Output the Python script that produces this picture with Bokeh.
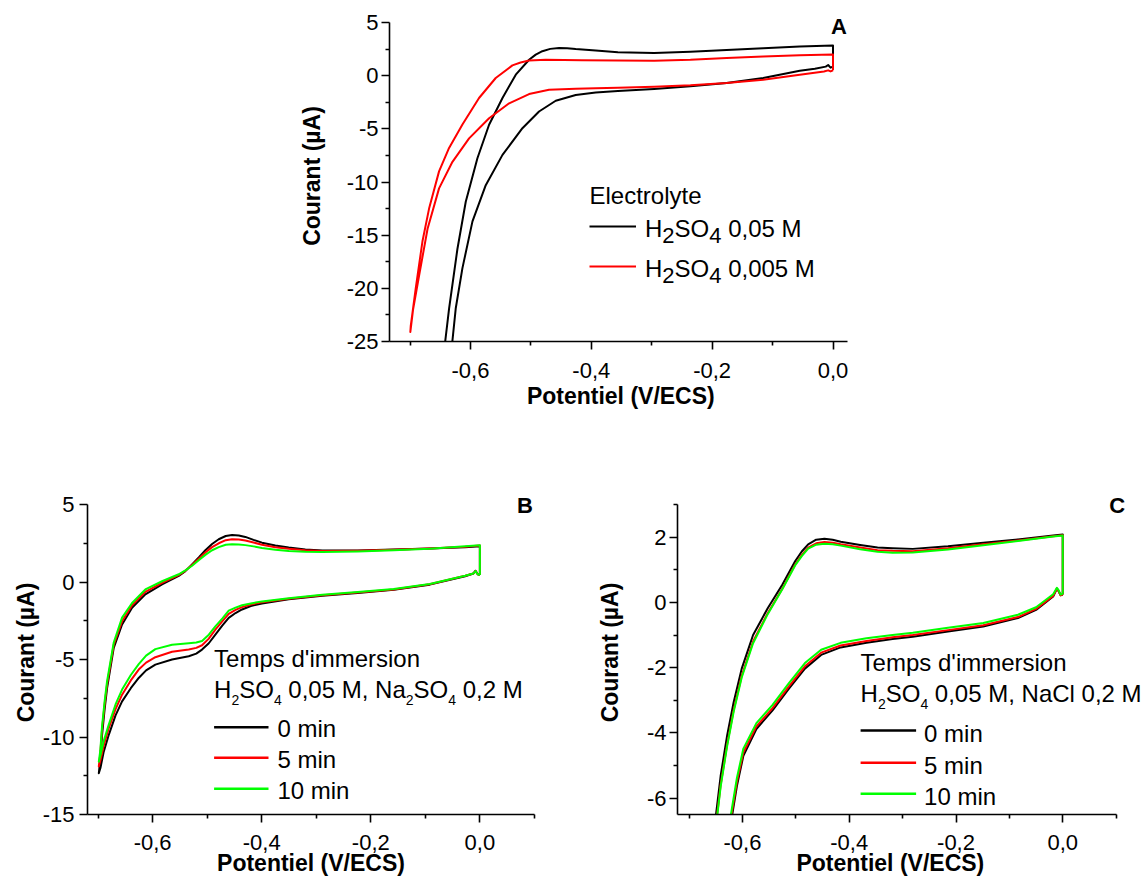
from bokeh.plotting import figure
from bokeh.models import Range1d, FixedTicker, CustomJSTickFormatter, Label, BoxAnnotation, Spacer
from bokeh.layouts import column, row
from bokeh.embed import file_html
from bokeh.resources import INLINE

# ---------------- data (E in V/ECS, I in µA) ----------------
# Panel A : H2SO4 0,05 M (black) and 0,005 M (red)
A_blk_fwd_E = [0.0, -0.004, -0.008, -0.012, -0.03, -0.055, -0.1155, -0.176, -0.236, -0.296, -0.356, -0.3927,
               -0.4258, -0.4589, -0.4865, -0.514, -0.547, -0.5747, -0.5967, -0.6133, -0.6244, -0.6298, -0.632]
A_blk_fwd_I = [0.85, 0.75, 1.0, 0.85, 0.65, 0.47, -0.22, -0.69, -1.0, -1.26, -1.45, -1.58,
               -1.82, -2.36, -3.37, -4.94, -7.45, -10.3, -13.7, -18.1, -21.9, -24.9, -26.5]
A_blk_rev_E = [-0.6445, -0.6416, -0.6354, -0.6216, -0.6078, -0.5885, -0.5692, -0.547, -0.525, -0.503, -0.492,
               -0.481, -0.468, -0.4534, -0.44, -0.4258, -0.3927, -0.356, -0.296, -0.236, -0.176, -0.1155, -0.055, 0.0]
A_blk_rev_I = [-26.5, -24.9, -21.9, -16.3, -11.86, -7.77, -4.62, -2.1, 0.09, 1.5, 1.98,
               2.3, 2.52, 2.6, 2.58, 2.5, 2.36, 2.2, 2.14, 2.26, 2.42, 2.58, 2.74, 2.83]
A_red_fwd_E = [0.0, -0.004, -0.008, -0.015, -0.055, -0.1155, -0.176, -0.236, -0.296, -0.356, -0.3927, -0.4258,
               -0.47, -0.503, -0.536, -0.5692, -0.6023, -0.6298, -0.652, -0.671, -0.685, -0.695, -0.6995]
A_red_fwd_I = [0.5, 0.4, 0.5, 0.4, 0.09, -0.38, -0.69, -0.91, -1.05, -1.13, -1.18, -1.24,
               -1.32, -1.73, -2.6, -4.0, -5.9, -8.1, -10.6, -14.4, -18.8, -22.0, -24.1]
A_red_rev_E = [-0.6988, -0.6906, -0.6795, -0.6685, -0.652, -0.6354, -0.6133, -0.5858, -0.5582, -0.5306, -0.517,
               -0.503, -0.4754, -0.416, -0.356, -0.296, -0.236, -0.176, -0.1155, -0.055, 0.0]
A_red_rev_I = [-23.5, -20.0, -15.6, -12.5, -9.0, -6.8, -4.6, -2.1, -0.22, 0.97, 1.24,
               1.42, 1.5, 1.45, 1.42, 1.41, 1.5, 1.67, 1.8, 1.92, 1.98]

# Panel B : H2SO4 0,05 M + Na2SO4 0,2 M, 0 / 5 / 10 min
B_fwd_E = [0.0, -0.004, -0.008, -0.012, -0.027, -0.092, -0.158, -0.224, -0.289, -0.3505,
           -0.3995, -0.42, -0.4361, -0.448, -0.4605, -0.472, -0.485, -0.497, -0.5094, -0.52,
           -0.5338, -0.5644, -0.595, -0.612, -0.6255, -0.64, -0.656, -0.668, -0.6804, -0.69,
           -0.6957, -0.6987]
B_0_fwd_I = [0.47, 0.5, 0.73, 0.55, 0.37, -0.17, -0.5, -0.71, -0.88, -1.12,
             -1.38, -1.55, -1.77, -2.0, -2.31, -2.8, -3.39, -3.95, -4.36, -4.62,
             -4.79, -5.0, -5.33, -5.7, -6.19, -6.85, -7.7, -8.6, -9.86, -11.0,
             -12.0, -12.34]
B_5_fwd_I = [0.45, 0.5, 0.7, 0.55, 0.4, -0.15, -0.48, -0.68, -0.85, -1.08,
             -1.3, -1.45, -1.62, -1.8, -2.05, -2.52, -3.07, -3.65, -4.08, -4.25,
             -4.35, -4.5, -4.85, -5.2, -5.65, -6.35, -7.27, -8.2, -9.43, -10.6,
             -11.5, -11.9]
B_10_fwd_I = [0.45, 0.5, 0.7, 0.55, 0.4, -0.13, -0.45, -0.65, -0.82, -1.04,
              -1.25, -1.38, -1.5, -1.65, -1.85, -2.35, -2.86, -3.4, -3.8, -3.9,
              -3.95, -4.05, -4.33, -4.75, -5.3, -6.0, -6.94, -7.9, -9.2, -10.3,
              -11.2, -11.6]
B_rev_E = [-0.696, -0.6927, -0.688, -0.6835, -0.6713, -0.656, -0.6377, -0.6133, -0.5827, -0.5521,
           -0.54, -0.5277, -0.515, -0.5033, -0.491, -0.4788, -0.466, -0.4544, -0.442, -0.43,
           -0.415, -0.3995, -0.375, -0.3505, -0.32, -0.289, -0.224, -0.158, -0.092, -0.027,
           0.0]
B_0_rev_I = [-11.5, -9.86, -8.2, -6.84, -4.25, -2.74, -1.66, -0.8, -0.15, 0.39,
             0.7, 1.14, 1.6, 2.05, 2.45, 2.76, 2.97, 3.04, 3.0, 2.91,
             2.72, 2.54, 2.35, 2.22, 2.1, 2.03, 2.04, 2.09, 2.16, 2.24,
             2.3]
B_5_rev_I = [-11.1, -9.5, -7.9, -6.6, -4.05, -2.53, -1.5, -0.63, -0.05, 0.45,
             0.72, 1.1, 1.52, 1.9, 2.25, 2.5, 2.7, 2.76, 2.74, 2.68,
             2.55, 2.4, 2.25, 2.15, 2.05, 2.0, 2.02, 2.08, 2.16, 2.27,
             2.35]
B_10_rev_I = [-10.9, -9.3, -7.7, -6.4, -3.9, -2.3, -1.35, -0.48, 0.05, 0.5,
              0.75, 1.05, 1.42, 1.75, 2.05, 2.25, 2.4, 2.44, 2.42, 2.38,
              2.3, 2.2, 2.08, 2.0, 1.95, 1.93, 1.97, 2.05, 2.15, 2.3,
              2.38]

# Panel C : H2SO4 0,05 M + NaCl 0,2 M, 0 / 5 / 10 min
C_fwd_E = [0.0, -0.004, -0.008, -0.011, -0.018, -0.05, -0.084, -0.149, -0.215, -0.281, -0.3189,
           -0.3677, -0.4163, -0.4527, -0.4831, -0.5134, -0.5437, -0.574, -0.5984, -0.6105, -0.6197, -0.624]
C_0_fwd_I = [0.24, 0.22, 0.35, 0.42, 0.18, -0.23, -0.48, -0.74, -0.89, -1.05, -1.12,
             -1.24, -1.38, -1.61, -2.03, -2.65, -3.31, -3.88, -4.7, -5.63, -6.55, -7.0]
C_5_fwd_I = [0.24, 0.22, 0.35, 0.42, 0.2, -0.2, -0.45, -0.7, -0.85, -1.0, -1.07,
             -1.18, -1.32, -1.54, -1.96, -2.58, -3.24, -3.8, -4.6, -5.5, -6.42, -6.85]
C_10_fwd_I = [0.26, 0.24, 0.38, 0.45, 0.25, -0.15, -0.38, -0.63, -0.78, -0.93, -1.0,
              -1.1, -1.24, -1.45, -1.86, -2.48, -3.14, -3.7, -4.48, -5.38, -6.3, -6.75]
C_rev_E = [-0.654, -0.650, -0.641, -0.6288, -0.6166, -0.6015, -0.5802, -0.5528, -0.5255, -0.5012,
           -0.489, -0.477, -0.462, -0.4465, -0.431, -0.416, -0.3796, -0.347, -0.3189, -0.281,
           -0.215, -0.149, -0.084, -0.018, 0.0]
C_0_rev_I = [-7.0, -6.55, -5.32, -4.08, -3.06, -2.03, -1.0, -0.18, 0.54, 1.27,
             1.56, 1.78, 1.92, 1.95, 1.92, 1.86, 1.76, 1.68, 1.66, 1.64,
             1.72, 1.83, 1.93, 2.05, 2.08]
C_5_rev_I = [-7.3, -6.85, -5.6, -4.35, -3.3, -2.25, -1.2, -0.33, 0.42, 1.17,
             1.45, 1.68, 1.81, 1.85, 1.83, 1.78, 1.68, 1.6, 1.58, 1.57,
             1.66, 1.78, 1.9, 2.03, 2.06]
C_10_rev_I = [-7.35, -6.9, -5.65, -4.4, -3.35, -2.3, -1.25, -0.36, 0.4, 1.14,
              1.42, 1.65, 1.77, 1.8, 1.78, 1.74, 1.63, 1.55, 1.52, 1.53,
              1.62, 1.75, 1.88, 2.02, 2.05]

# axes extents (data) and ticks
A_X_LIM, A_Y_LIM = (-0.734, 0.024), (-25, 5)
B_X_LIM, B_Y_LIM = (-0.7194, 0.1001), (-15, 5)
C_X_LIM, C_Y_LIM = (-0.7218, 0.1001), (-6.5, 3.0001)
X_MAJOR = [-0.6, -0.4, -0.2, 0.0]
X_MINOR_A = [-0.7, -0.5, -0.3, -0.1]
X_MINOR_BC = [-0.7, -0.5, -0.3, -0.1, 0.1]
A_Y_MAJOR = [-25, -20, -15, -10, -5, 0, 5]
A_Y_MINOR = [-22.5, -17.5, -12.5, -7.5, -2.5, 2.5]
B_Y_MAJOR = [-15, -10, -5, 0, 5]
B_Y_MINOR = [-12.5, -7.5, -2.5, 2.5]
C_Y_MAJOR = [-6, -4, -2, 0, 2]
C_Y_MINOR = [-5, -3, -1, 1, 3]

X_TITLE = "Potentiel (V/ECS)"
Y_TITLE = "Courant (µA)"

# ---------------- helpers ----------------
FONT = "Liberation Sans"
TXT_DY = -7  # baseline correction for screen labels
NBSP = "\u00a0"
WID = {' ': 278, "'": 191, '(': 333, ')': 333, ',': 278, '-': 333, '.': 278, '/': 278, 'M': 833, 'H': 722,
       'S': 667, 'O': 778, 'N': 722, 'C': 722, 'T': 611, 'E': 667, 'a': 556, 'c': 500, 'd': 556, 'e': 556,
       'i': 222, 'l': 222, 'm': 833, 'n': 556, 'o': 556, 'p': 556, 'r': 333, 's': 500, 't': 278, 'y': 500}


def tw(s, fs):
    return sum(WID.get(ch, 556) for ch in s) * fs / 1000.0


def loop(fe, fi, re_, ri):
    return list(fe) + list(re_) + [fe[0]], list(fi) + list(ri) + [fi[0]]


def make_fig(w, h, bl, br, bt, bb, xlim, ylim, x_pad, y_pad, ymaj, ymin, xminor,
             ystand, ylabstand, xstand, xlabstand, xlabel=X_TITLE):
    # the frame is padded on the right / top (blank room for texts); axes keep the data extents
    p = figure(width=w, height=h,
               x_range=Range1d(xlim[0], xlim[1] + x_pad), y_range=Range1d(ylim[0], ylim[1] + y_pad),
               output_backend="svg", toolbar_location=None,
               min_border_left=bl, min_border_right=br, min_border_top=bt, min_border_bottom=bb)
    p.grid.visible = False
    p.outline_line_color = None
    p.background_fill_color = "white"
    p.border_fill_color = "white"
    p.xaxis.bounds = xlim
    p.yaxis.bounds = ylim
    p.xaxis.ticker = FixedTicker(ticks=X_MAJOR, minor_ticks=xminor)
    p.xaxis.formatter = CustomJSTickFormatter(
        code="const s = Math.abs(tick) < 1e-9 ? '0.0' : tick.toFixed(1); return s.replace('.', ',');")
    p.yaxis.ticker = FixedTicker(ticks=ymaj, minor_ticks=ymin)
    p.yaxis.formatter = CustomJSTickFormatter(code="return tick.toFixed(0);")
    for ax in (p.xaxis[0], p.yaxis[0]):
        ax.axis_line_width = 1.6
        ax.axis_line_color = "black"
        ax.major_tick_line_width = 1.6
        ax.minor_tick_line_width = 1.6
        ax.major_tick_line_color = "black"
        ax.minor_tick_line_color = "black"
        ax.major_tick_in = 0
        ax.minor_tick_in = 0
        ax.major_tick_out = 8
        ax.minor_tick_out = 4
        ax.major_label_text_font = FONT
        ax.major_label_text_font_size = "22px"
        ax.major_label_text_color = "black"
        ax.axis_label_text_font = FONT
        ax.axis_label_text_font_size = "23px"
        ax.axis_label_text_font_style = "bold"
        ax.axis_label_text_color = "black"
    p.xaxis.axis_label = xlabel
    p.yaxis.axis_label = Y_TITLE
    p.yaxis.major_label_standoff = ystand
    p.yaxis.axis_label_standoff = ylabstand
    p.xaxis.major_label_standoff = xstand
    p.xaxis.axis_label_standoff = xlabstand
    return p


def put_text(p, fl, fb, x, y, text, fs, bold=False, align="left"):
    p.add_layout(Label(x=x - fl, y=fb - (y + TXT_DY), x_units="screen", y_units="screen", text=text,
                       text_font=FONT, text_font_size=f"{fs}px",
                       text_font_style="bold" if bold else "normal",
                       text_align=align, text_baseline="alphabetic", text_color="black"))


def put_rich(p, fl, fb, x, y, parts, fs, sfs, drop):
    cx = x
    for txt, sub in parts:
        f = sfs if sub else fs
        stripped = txt.lstrip(" ")
        cx += tw(txt[:len(txt) - len(stripped)], f)
        put_text(p, fl, fb, cx, y + (drop if sub else 0), stripped, f)
        cx += tw(stripped, f)


def put_line(p, fl, fb, x0, x1, y, color, lw=2.2):
    p.add_layout(BoxAnnotation(left=x0 - fl, right=x1 - fl, bottom=fb - y - lw / 2, top=fb - y + lw / 2,
                               left_units="screen", right_units="screen",
                               top_units="screen", bottom_units="screen",
                               fill_color=color, fill_alpha=1.0, line_color=None, level="overlay"))


BLACK, RED, GREEN = "#000000", "#ff0000", "#00ff00"
LW = 2

# ---------------- panel A ----------------
# canvas page x 260..860, y 8..428 ; frame 389..858 x 10..341 (axes 389..847 x 22..341)
pA = make_fig(600, 420, 129, 2, 2, 87, A_X_LIM, A_Y_LIM, 0.0182, 1.1286, A_Y_MAJOR, A_Y_MINOR, X_MINOR_A,
              3, 19, 13, 2, xlabel=X_TITLE + NBSP)
ex, iy = loop(A_blk_fwd_E, A_blk_fwd_I, A_blk_rev_E, A_blk_rev_I)
pA.line(ex, iy, line_color=BLACK, line_width=LW, line_join="round")
ex, iy = loop(A_red_fwd_E, A_red_fwd_I, A_red_rev_E, A_red_rev_I)
pA.line(ex, iy, line_color=RED, line_width=LW, line_join="round")
fl, fb = 389, 341
put_text(pA, fl, fb, 838.5, 33.3, "A", 22, bold=True, align="center")
put_text(pA, fl, fb, 589, 201.7, "Electrolyte", 24)
put_line(pA, fl, fb, 589, 635.5, 226, BLACK)
put_rich(pA, fl, fb, 644.5, 235, [("H", 0), ("2", 1), ("SO", 0), ("4", 1), (" 0,05 M", 0)], 24, 22, 6.7)
put_line(pA, fl, fb, 589, 635.5, 266, RED)
put_rich(pA, fl, fb, 644.5, 275, [("H", 0), ("2", 1), ("SO", 0), ("4", 1), (" 0,005 M", 0)], 24, 22, 6.7)

# ---------------- panel B ----------------
# canvas page x 8..593, y 428..880 ; frame 87..534 x 490..814 (axes 87..534 x 504..814)
pB = make_fig(585, 452, 79, 59, 62, 66, B_X_LIM, B_Y_LIM, 0.0, 0.9047, B_Y_MAJOR, B_Y_MINOR, X_MINOR_BC,
              5, 1, 12, -3)
for fi, ri, col in ((B_0_fwd_I, B_0_rev_I, BLACK), (B_5_fwd_I, B_5_rev_I, RED), (B_10_fwd_I, B_10_rev_I, GREEN)):
    ex, iy = loop(B_fwd_E, fi, B_rev_E, ri)
    pB.line(ex, iy, line_color=col, line_width=LW, line_join="round")
fl, fb = 87, 814
put_text(pB, fl, fb, 524.5, 511.7, "B", 22, bold=True, align="center")
put_text(pB, fl, fb, 213.6, 665, "Temps d'immersion", 24)
put_rich(pB, fl, fb, 213.6, 696, [("H", 0), ("2", 1), ("SO", 0), ("4", 1), (" 0,05 M, Na", 0), ("2", 1),
                                  ("SO", 0), ("4", 1), (" 0,2 M", 0)], 24, 14, 10)
for yl, yt, col, lab in ((726.7, 735, BLACK, "0 min"), (757.3, 766, RED, "5 min"), (788.3, 796.7, GREEN, "10 min")):
    put_line(pB, fl, fb, 213.6, 268, yl, col, 2.6)
    put_text(pB, fl, fb, 276.9, yt, lab, 24)

# ---------------- panel C ----------------
# canvas page x 593..1147, y 428..880 ; frame 664..1141 x 490..814 (axes 664..1115 x 504..814)
pC = make_fig(554, 452, 71, 6, 62, 66, C_X_LIM, C_Y_LIM, 0.0474, 0.4288, C_Y_MAJOR, C_Y_MINOR, X_MINOR_BC,
              3, 21, 12, -3, xlabel=X_TITLE + NBSP * 6)
for fi, ri, col in ((C_0_fwd_I, C_0_rev_I, BLACK), (C_5_fwd_I, C_5_rev_I, RED), (C_10_fwd_I, C_10_rev_I, GREEN)):
    ex, iy = loop(C_fwd_E, fi, C_rev_E, ri)
    pC.line(ex, iy, line_color=col, line_width=LW, line_join="round")
fl, fb = 664, 814
put_text(pC, fl, fb, 1103.7, 511.7, "C", 22, bold=True, align="center")
put_text(pC, fl, fb, 847.1, 669.3, "Temps d'immersion", 24)
put_rich(pC, fl, fb, 847.1, 700, [("H", 0), ("2", 1), ("SO", 0), ("4", 1), (" 0,05 M, NaCl 0,2 M", 0)], 24, 14, 10)
for yl, yt, col, lab in ((730, 740, BLACK, "0 min"), (762.3, 771.7, RED, "5 min"), (793.3, 802.7, GREEN, "10 min")):
    put_line(pC, fl, fb, 847.1, 902.6, yl, col, 2.6)
    put_text(pC, fl, fb, 910.6, yt, lab, 24)

inner = column(row(Spacer(width=252, height=420), pA), row(pB, pC))
layout = column(Spacer(width=1147, height=8), row(Spacer(width=8, height=872), inner))
open("out.html", "w").write(file_html(layout, INLINE))
